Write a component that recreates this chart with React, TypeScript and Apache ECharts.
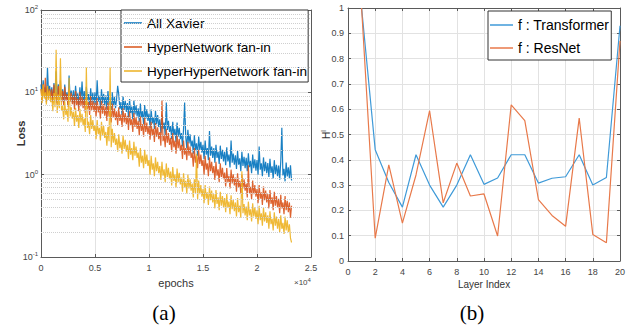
import React, { useEffect, useRef } from "react";
import * as echarts from "echarts";

// ---------- (a) training loss, sampled every EPOCH_STEP epochs ----------
const EPOCH_STEP = 100;
const SERIES_A_NAMES = ["All Xavier", "HyperNetwork fan-in", "HyperHyperNetwork fan-in"];
const LOSS_XAVIER = [
  12.5, 8.6, 14, 9.7, 11.5, 8.2, 20, 9.4, 12, 8.8,
  11.5, 7.8, 13, 8.8, 18, 7.4, 12.5, 8.5, 11, 8,
  10.9, 7.4, 12.4, 8.4, 10, 7, 16, 8.1, 10.5, 7.6,
  10.6, 7.2, 12, 8.1, 9.7, 6.8, 11.5, 7.8, 13.5, 7.4,
  10.4, 7, 11.7, 7.9, 9.5, 6.7, 11.2, 7.6, 9.9, 7.2,
  10, 6.8, 14, 7.7, 9.1, 6.4, 10.9, 7.4, 9.6, 7,
  9.2, 6.2, 10.4, 7, 8.4, 5.9, 10, 6.8, 8.8, 6.4,
  8.3, 12, 9.4, 6.3, 7.6, 5.3, 9, 6.1, 7.9, 5.8,
  7.4, 5, 8.3, 5.6, 6.7, 4.7, 8, 5.4, 7, 5.1,
  6.4, 4.4, 7.3, 4.9, 5.9, 4.1, 7, 4.8, 6.2, 4.5,
  5.5, 3.7, 6.2, 4.2, 5, 3.6, 6, 4.1, 5.3, 3.8,
  4.7, 3.2, 5.3, 3.6, 4.3, 3.0, 7.5, 3.5, 4.5, 3.3,
  3.9, 2.7, 4.4, 3.0, 3.6, 2.5, 4.3, 2.9, 3.7, 2.7,
  3.2, 2.2, 3.6, 7.5, 2.9, 2.1, 3.5, 2.4, 3.1, 2.2,
  2.6, 1.8, 3.0, 2.0, 2.4, 1.7, 2.9, 2.0, 2.5, 1.85,
  2.3, 1.55, 2.6, 1.75, 2.1, 1.5, 3.4, 1.7, 2.2, 1.6,
  2.1, 1.4, 2.3, 1.6, 1.9, 1.35, 2.25, 1.55, 2.0, 1.45,
  1.9, 1.3, 2.15, 1.45, 1.75, 1.22, 2.6, 1.4, 1.8, 1.32,
  1.72, 1.17, 1.95, 1.32, 1.58, 1.1, 1.9, 1.28, 1.65, 1.2,
  1.6, 1.1, 1.82, 1.23, 1.47, 1.04, 1.75, 1.2, 1.54, 1.12,
  1.5, 1.0, 2.2, 1.15, 1.37, 0.96, 1.62, 1.1, 1.43, 1.04,
  1.38, 0.94, 1.56, 1.05, 1.26, 0.89, 1.5, 1.02, 1.32, 0.96,
  1.29, 0.87, 1.45, 3.7, 0.98, 1.18, 0.83, 1.4, 0.95, 1.23,
  0.9, 1.3, 0.85,
];
const LOSS_HYPER = [
  11, 8, 12.5, 8.8, 15, 7.6, 12, 8.5, 11, 8.2,
  10.9, 7.4, 12.4, 8.4, 10, 7.1, 11.9, 8.1, 14, 7.6,
  10.4, 7, 11.7, 7.9, 9.5, 6.7, 11.2, 7.7, 9.9, 7.2,
  9.2, 6.2, 10.4, 7, 8.4, 5.9, 10, 6.8, 8.8, 6.4,
  8.3, 5.6, 9.4, 6.3, 7.6, 5.3, 9, 6.1, 7.9, 5.8,
  7.5, 5.1, 8.5, 5.7, 6.8, 4.8, 8.1, 5.5, 7.2, 5.2,
  6.7, 4.5, 7.5, 5.1, 6.1, 4.3, 7.3, 4.9, 6.4, 4.6,
  5.9, 4.0, 6.6, 4.5, 5.4, 3.8, 6.4, 4.3, 5.6, 4.1,
  5.2, 3.5, 5.9, 4.0, 4.7, 3.3, 5.6, 3.8, 5.0, 3.6,
  4.5, 3.0, 5.1, 3.4, 4.1, 2.9, 4.9, 3.3, 4.3, 3.1,
  3.9, 2.65, 4.4, 3.0, 3.6, 2.5, 4.25, 2.9, 3.75, 2.7,
  3.3, 2.25, 8, 2.55, 3.05, 2.15, 3.6, 2.45, 3.2, 2.3,
  2.8, 1.9, 3.2, 2.15, 2.6, 1.8, 3.05, 2.1, 2.7, 1.95,
  2.3, 1.55, 2.6, 1.75, 2.1, 1.5, 2.5, 1.7, 2.2, 1.6,
  1.85, 1.25, 2.1, 1.4, 1.7, 1.2, 2.0, 1.35, 1.75, 1.28,
  1.5, 1.0, 1.7, 1.15, 1.37, 0.96, 1.62, 1.1, 1.43, 1.04,
  1.27, 0.86, 1.43, 0.97, 1.16, 0.81, 1.37, 0.94, 1.21, 0.88,
  1.06, 0.72, 1.2, 0.81, 0.97, 0.68, 1.15, 0.78, 1.01, 0.74,
  0.92, 0.62, 1.04, 0.7, 0.84, 0.59, 1.0, 0.68, 0.88, 0.64,
  0.78, 0.53, 1.3, 0.6, 0.71, 0.5, 0.85, 0.58, 0.75, 0.54,
  0.67, 0.45, 0.75, 0.51, 0.61, 0.43, 0.72, 0.49, 0.64, 0.46,
  0.58, 0.39, 0.65, 0.44, 0.53, 0.37, 0.62, 0.42, 0.55, 0.4,
  0.51, 0.34, 0.57, 0.39, 0.46, 0.33, 0.55, 0.37, 0.48, 0.35,
  0.46, 0.3, 0.42,
];
const LOSS_HYPERHYPER = [
  10.9, 7.4, 12.4, 8.4, 10, 7.1, 11.9, 8.1, 10.5, 7.6,
  8.6, 5.9, 9.8, 6.6, 33, 5.6, 9.4, 6.4, 26, 6,
  6.9, 4.7, 7.8, 5.3, 6.3, 4.4, 15, 5.1, 6.6, 4.8,
  5.8, 3.9, 6.5, 4.4, 5.3, 3.7, 6.3, 4.3, 5.5, 4,
  4.8, 3.3, 20, 3.7, 4.4, 3.1, 5.3, 3.6, 4.6, 3.4,
  4.0, 2.7, 4.6, 3.1, 3.7, 2.6, 4.4, 3.0, 3.9, 2.8,
  3.3, 2.25, 3.8, 2.55, 20, 2.15, 3.6, 2.45, 3.2, 2.3,
  2.75, 1.9, 3.1, 2.1, 2.5, 1.8, 3.0, 2.05, 2.65, 1.9,
  2.3, 1.55, 2.6, 1.75, 2.1, 1.5, 2.5, 1.7, 2.2, 1.6,
  1.85, 1.25, 2.1, 1.4, 1.7, 1.2, 2.0, 1.35, 1.75, 1.28,
  1.5, 1.0, 1.7, 1.15, 1.37, 0.96, 1.62, 1.1, 1.43, 1.04,
  1.27, 0.86, 1.43, 0.97, 1.16, 0.81, 1.37, 0.94, 1.21, 0.88,
  1.09, 0.74, 1.24, 0.84, 1.0, 0.7, 1.19, 0.81, 1.05, 0.76,
  0.92, 0.62, 1.04, 0.7, 0.84, 0.59, 1.0, 0.68, 0.88, 0.64,
  0.78, 0.53, 0.88, 0.6, 1.8, 0.5, 0.85, 0.58, 0.75, 0.54,
  0.67, 0.45, 0.75, 0.51, 0.61, 0.43, 0.72, 0.49, 0.64, 0.46,
  0.58, 0.39, 0.65, 0.44, 0.53, 0.37, 0.62, 0.42, 0.55, 0.4,
  0.52, 0.35, 0.58, 0.4, 0.47, 0.33, 0.56, 0.38, 0.5, 0.36,
  0.46, 0.31, 0.52, 0.35, 0.42, 0.3, 1.1, 0.34, 0.44, 0.32,
  0.41, 0.28, 0.47, 0.32, 0.38, 0.27, 0.45, 0.31, 0.4, 0.29,
  0.37, 0.25, 0.42, 0.28, 0.34, 0.24, 0.4, 0.27, 0.35, 0.26,
  0.32, 0.22, 0.36, 0.25, 0.29, 0.21, 0.35, 0.24, 0.31, 0.22,
  0.29, 0.2, 0.32, 0.22, 0.26, 0.19, 0.31, 0.21, 0.28, 0.2,
  0.25, 0.17, 0.15,
];
const LOG_MINOR_GRID = [0.2, 0.3, 0.4, 0.5, 0.6, 0.7, 0.8, 0.9, 2, 3, 4, 5, 6, 7, 8, 9, 20, 30, 40, 50, 60, 70, 80, 90];

// ---------- (b) H^l per layer ----------
const SERIES_B_NAMES = ["f : Transformer", "f : ResNet"];
const LAYERS = [1, 2, 3, 4, 5, 6, 7, 8, 9, 10, 11, 12, 13, 14, 15, 16, 17, 18, 19, 20];
const H_TRANSFORMER = [1.0, 0.44, 0.31, 0.213, 0.42, 0.30, 0.213, 0.30, 0.42, 0.303, 0.328, 0.42, 0.42, 0.308, 0.327, 0.333, 0.42, 0.30, 0.33, 0.93];
const H_RESNET = [1.0, 0.09, 0.38, 0.15, 0.34, 0.594, 0.23, 0.387, 0.257, 0.265, 0.099, 0.617, 0.555, 0.243, 0.18, 0.137, 0.565, 0.105, 0.072, 0.87];

const COLORS_A = ["#0072BD", "#D95319", "#EDB120"];
const COLORS_B = ["#3f9ad8", "#e8794a"];
const FONT = "Liberation Sans, Arial, sans-serif";
const AXIS_COLOR = "#5a5a5a";
const LABEL_COLOR = "#444";
const GRID_COLOR = "#e2e2e2";

function frameAxis(gridIndex: number, position: string, extra: any) {
  return {
    gridIndex,
    position,
    axisLine: { show: true, onZero: false, lineStyle: { color: AXIS_COLOR, width: 1 } },
    axisTick: { show: true, inside: true, length: 3, lineStyle: { color: AXIS_COLOR } },
    axisLabel: { show: false },
    splitLine: { show: false },
    ...extra,
  };
}

export default function App() {
  const ref = useRef<HTMLDivElement>(null);
  useEffect(() => {
    if (!ref.current) return;
    const chart = echarts.init(ref.current, undefined, { renderer: "svg" });
    const supRich = {
      b: { fontSize: 9, color: LABEL_COLOR, fontFamily: FONT, lineHeight: 12 },
      s: { fontSize: 6, color: LABEL_COLOR, fontFamily: FONT, verticalAlign: "top", lineHeight: 6 },
    };
    const lineSeries = (name: string, vals: number[], color: string, z: number) => ({
      name,
      type: "line",
      xAxisIndex: 0,
      yAxisIndex: 0,
      symbol: "none",
      z,
      data: vals.map((v, i) => [i * EPOCH_STEP, v]),
      lineStyle: { width: 1.2, color, opacity: 0.9 },
      itemStyle: { color },
    });
    const option: any = {
      animation: false,
      backgroundColor: "#ffffff",
      grid: [
        { left: 41, top: 10, width: 270, height: 247 },
        { left: 348, top: 8, width: 272, height: 253 },
      ],
      xAxis: [
        frameAxis(0, "bottom", {
          type: "value", min: 0, max: 25000, interval: 5000,
          axisLabel: { show: true, formatter: (v: number) => String(v / 10000), fontSize: 9, color: LABEL_COLOR, margin: 6, fontFamily: FONT },
          splitLine: { show: true, lineStyle: { color: GRID_COLOR } },
          name: "epochs", nameLocation: "middle", nameGap: 20, nameMoveOverlap: false,
          nameTextStyle: { fontSize: 11, color: "#333", fontFamily: FONT },
        }),
        frameAxis(0, "top", { type: "value", min: 0, max: 25000, interval: 5000 }),
        frameAxis(1, "bottom", {
          type: "value", min: 0, max: 20, interval: 2,
          axisLabel: { show: true, fontSize: 9, color: LABEL_COLOR, margin: 6, fontFamily: FONT },
          splitLine: { show: true, lineStyle: { color: GRID_COLOR } },
          name: "Layer Index", nameLocation: "middle", nameGap: 18, nameMoveOverlap: false,
          nameTextStyle: { fontSize: 10, color: "#333", fontFamily: FONT },
        }),
        frameAxis(1, "top", { type: "value", min: 0, max: 20, interval: 2 }),
      ],
      yAxis: [
        frameAxis(0, "left", {
          type: "log", logBase: 10, min: 0.1, max: 100,
          axisLabel: {
            show: true, margin: 3,
            formatter: (v: number) => `{b|10}{s|${Math.round(Math.log10(v))}}`,
            rich: supRich,
          },
          splitLine: { show: true, lineStyle: { color: GRID_COLOR } },
          name: "Loss", nameLocation: "middle", nameGap: 15, nameMoveOverlap: false,
          nameTextStyle: { fontSize: 11, fontWeight: "bold", color: "#333", fontFamily: FONT },
        }),
        frameAxis(0, "right", { type: "log", logBase: 10, min: 0.1, max: 100 }),
        frameAxis(1, "left", {
          type: "value", min: 0, max: 1, interval: 0.1,
          axisLabel: { show: true, fontSize: 9, color: LABEL_COLOR, margin: 4, fontFamily: FONT },
          splitLine: { show: true, lineStyle: { color: GRID_COLOR } },
          name: "{h|H}{s|l}", nameLocation: "middle", nameGap: 16, nameMoveOverlap: false,
          nameTextStyle: {
            rich: {
              h: { fontSize: 10, color: "#333", fontFamily: FONT, lineHeight: 12 },
              s: { fontSize: 7, color: "#333", fontFamily: FONT, verticalAlign: "top", lineHeight: 7 },
            },
          },
        }),
        frameAxis(1, "right", { type: "value", min: 0, max: 1, interval: 0.1 }),
      ],
      legend: [
        {
          data: SERIES_A_NAMES,
          orient: "vertical",
          left: 121, top: 10,
          icon: "rect",
          itemWidth: 18, itemHeight: 1.5, itemGap: 8,
          padding: [5, 1, 3, 3],
          borderColor: "#333", borderWidth: 1, backgroundColor: "#fff",
          textStyle: { fontSize: 13.6, color: "#000", fontFamily: FONT, lineHeight: 16 },
        },
        {
          data: SERIES_B_NAMES,
          orient: "vertical",
          left: 488, top: 11,
          icon: "rect",
          itemWidth: 23, itemHeight: 1.5, itemGap: 7,
          padding: [6, 2, 4, 2],
          borderColor: "#333", borderWidth: 1, backgroundColor: "#fff",
          textStyle: { fontSize: 14, color: "#000", fontFamily: FONT, lineHeight: 16 },
        },
      ],
      series: [
        {
          name: "minor-grid",
          type: "line",
          xAxisIndex: 0,
          yAxisIndex: 0,
          data: [],
          silent: true,
          z: 1,
          markLine: {
            silent: true,
            symbol: "none",
            label: { show: false },
            lineStyle: { type: "dotted", color: "#cfcfcf", width: 1 },
            data: LOG_MINOR_GRID.map((v) => ({ yAxis: v })),
          },
        },
        lineSeries(SERIES_A_NAMES[0], LOSS_XAVIER, COLORS_A[0], 2),
        lineSeries(SERIES_A_NAMES[1], LOSS_HYPER, COLORS_A[1], 3),
        lineSeries(SERIES_A_NAMES[2], LOSS_HYPERHYPER, COLORS_A[2], 4),
        {
          name: SERIES_B_NAMES[0], type: "line", xAxisIndex: 2, yAxisIndex: 2, symbol: "none",
          data: LAYERS.map((l, i) => [l, H_TRANSFORMER[i]]),
          lineStyle: { width: 1.2, color: COLORS_B[0] }, itemStyle: { color: COLORS_B[0] },
        },
        {
          name: SERIES_B_NAMES[1], type: "line", xAxisIndex: 2, yAxisIndex: 2, symbol: "none",
          data: LAYERS.map((l, i) => [l, H_RESNET[i]]),
          lineStyle: { width: 1.2, color: COLORS_B[1] }, itemStyle: { color: COLORS_B[1] },
        },
      ],
      graphic: [
        {
          type: "text", left: 294, top: 277,
          style: {
            text: "{a|×10}{s|4}",
            rich: {
              a: { fontSize: 8, fill: LABEL_COLOR, fontFamily: FONT, lineHeight: 10 },
              s: { fontSize: 6, fill: LABEL_COLOR, fontFamily: FONT, verticalAlign: "top", lineHeight: 6 },
            },
          },
        },
        {
          type: "text", x: 164, y: 313,
          style: { text: "(a)", fontSize: 21, fontFamily: "Liberation Serif, Times New Roman, serif", fill: "#000", align: "center", verticalAlign: "middle" },
        },
        {
          type: "text", x: 472, y: 313,
          style: { text: "(b)", fontSize: 21, fontFamily: "Liberation Serif, Times New Roman, serif", fill: "#000", align: "center", verticalAlign: "middle" },
        },
      ],
    };
    chart.setOption(option);
    return () => chart.dispose();
  }, []);
  return <div ref={ref} style={{ position: "fixed", left: 0, top: 0, width: 632, height: 331 }} />;
}
